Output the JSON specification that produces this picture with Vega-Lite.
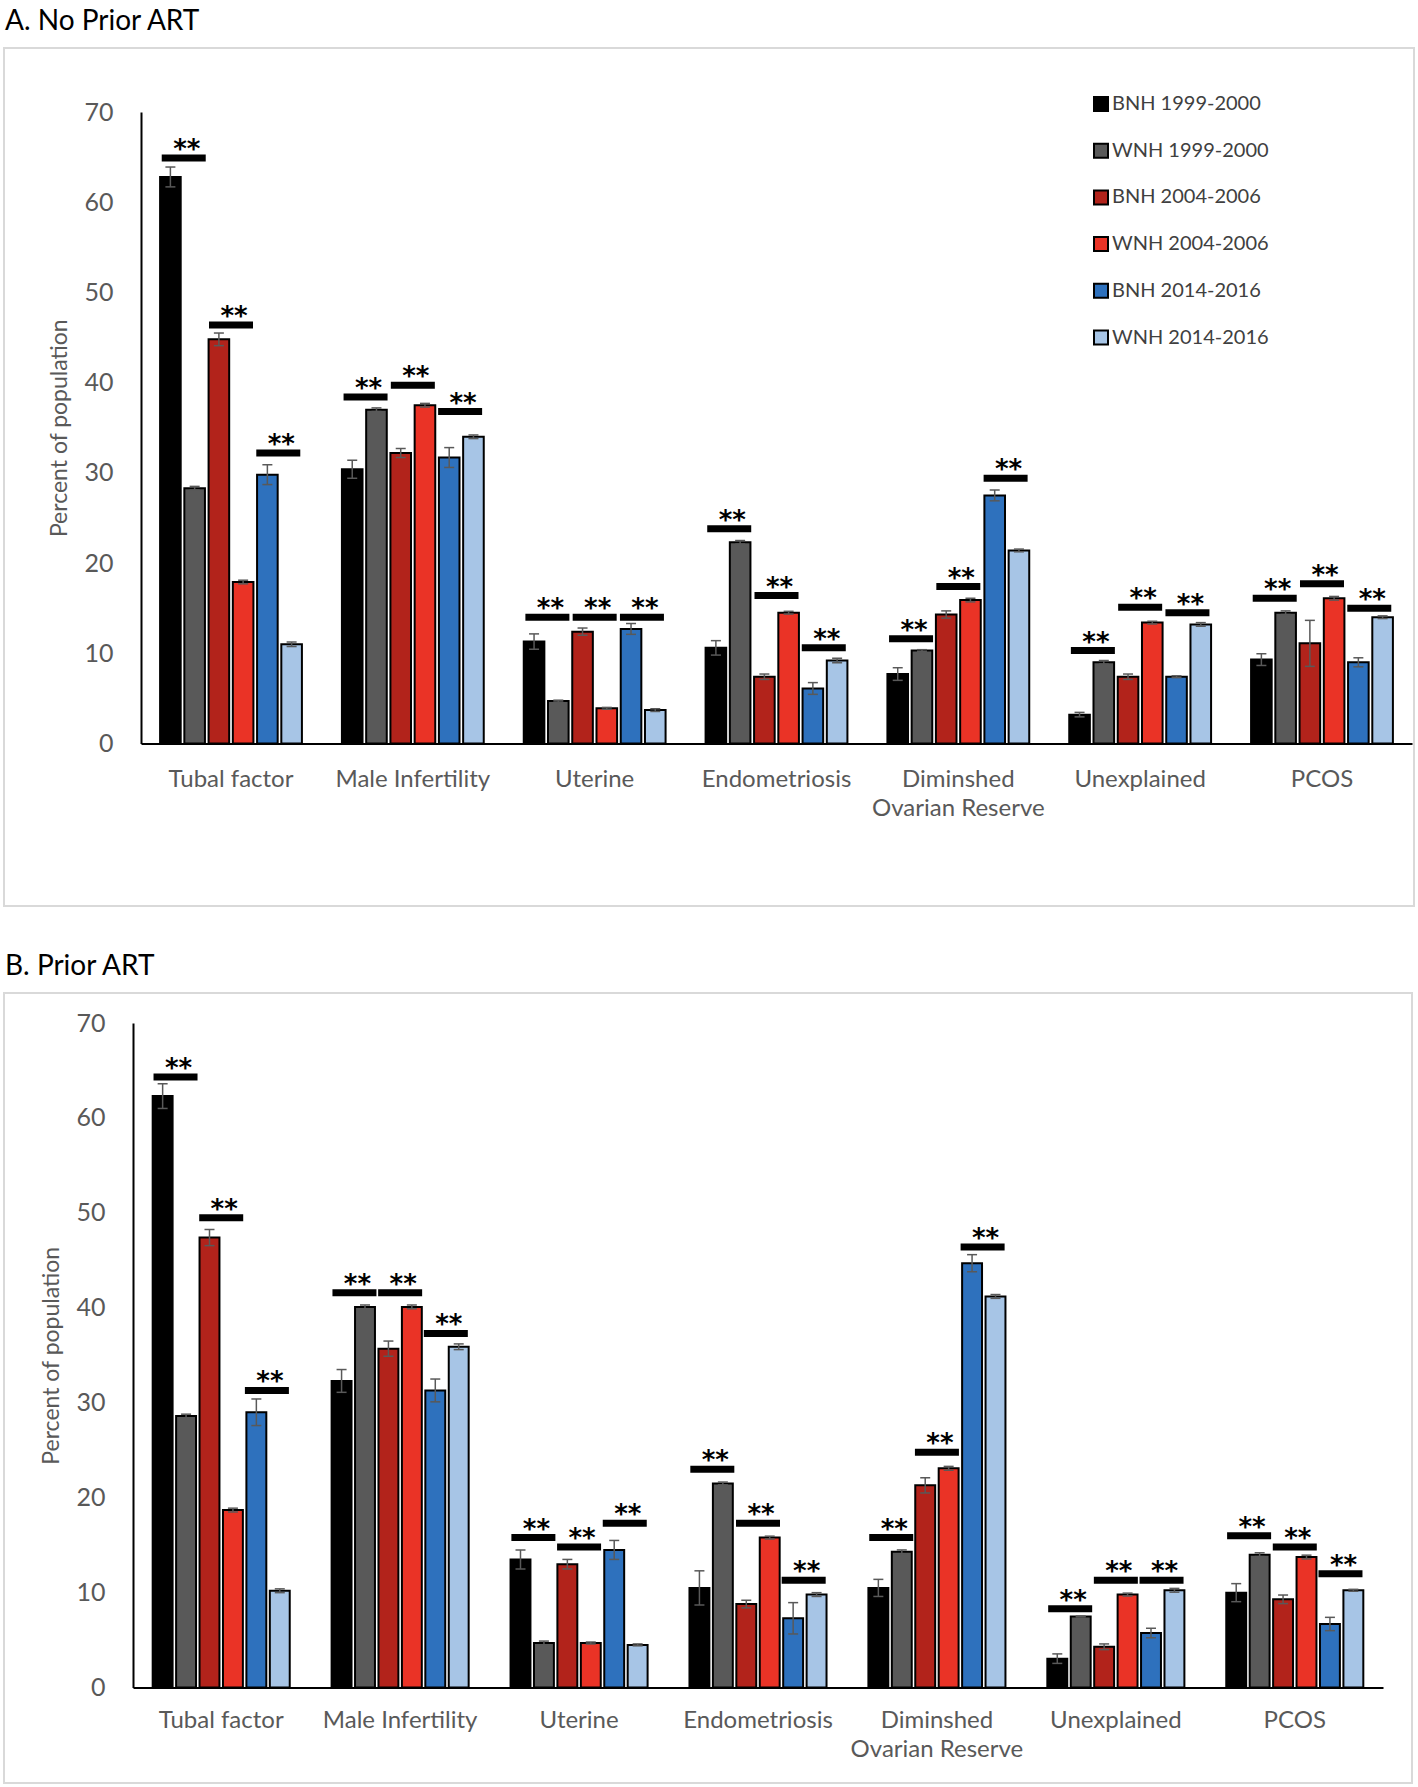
{
"$schema": "https://vega.github.io/schema/vega-lite/v6.json",
"padding": {"left": 3, "top": 7, "right": 0, "bottom": 0},
"autosize": {"type": "pad"},
"spacing": 45,
"config": {
  "font": "Lato",
  "view": {"stroke": "#d9d9d9", "strokeWidth": 2},
  "axis": {"grid": false, "ticks": false, "domainColor": "#000000", "domainWidth": 2, "labelColor": "#595959", "labelFont": "Lato", "titleFont": "Lato", "titleColor": "#595959", "titleFontWeight": "normal"},
  "title": {"font": "Lato", "fontWeight": "normal", "color": "#000000", "anchor": "start", "frame": "group", "fontSize": 28},
  "tick": {"opacity": 1}
},
"datasets": {
"bars": [
{"panel":"A","category":"Tubal factor","group":"BNH 1999-2000","value":62.8,"lo":61.7,"hi":63.9},
{"panel":"A","category":"Tubal factor","group":"WNH 1999-2000","value":28.3,"lo":28.1,"hi":28.5},
{"panel":"A","category":"Tubal factor","group":"BNH 2004-2006","value":44.8,"lo":44.1,"hi":45.5},
{"panel":"A","category":"Tubal factor","group":"WNH 2004-2006","value":17.9,"lo":17.7,"hi":18.1},
{"panel":"A","category":"Tubal factor","group":"BNH 2014-2016","value":29.8,"lo":28.7,"hi":30.9},
{"panel":"A","category":"Tubal factor","group":"WNH 2014-2016","value":11.0,"lo":10.75,"hi":11.25},
{"panel":"A","category":"Male Infertility","group":"BNH 1999-2000","value":30.4,"lo":29.4,"hi":31.4},
{"panel":"A","category":"Male Infertility","group":"WNH 1999-2000","value":37.0,"lo":36.8,"hi":37.2},
{"panel":"A","category":"Male Infertility","group":"BNH 2004-2006","value":32.2,"lo":31.7,"hi":32.7},
{"panel":"A","category":"Male Infertility","group":"WNH 2004-2006","value":37.5,"lo":37.3,"hi":37.7},
{"panel":"A","category":"Male Infertility","group":"BNH 2014-2016","value":31.7,"lo":30.6,"hi":32.8},
{"panel":"A","category":"Male Infertility","group":"WNH 2014-2016","value":34.0,"lo":33.8,"hi":34.2},
{"panel":"A","category":"Uterine","group":"BNH 1999-2000","value":11.3,"lo":10.45,"hi":12.15},
{"panel":"A","category":"Uterine","group":"WNH 1999-2000","value":4.7,"lo":4.6,"hi":4.8},
{"panel":"A","category":"Uterine","group":"BNH 2004-2006","value":12.4,"lo":12.0,"hi":12.8},
{"panel":"A","category":"Uterine","group":"WNH 2004-2006","value":3.9,"lo":3.8,"hi":4.0},
{"panel":"A","category":"Uterine","group":"BNH 2014-2016","value":12.7,"lo":12.1,"hi":13.3},
{"panel":"A","category":"Uterine","group":"WNH 2014-2016","value":3.7,"lo":3.55,"hi":3.85},
{"panel":"A","category":"Endometriosis","group":"BNH 1999-2000","value":10.6,"lo":9.8,"hi":11.4},
{"panel":"A","category":"Endometriosis","group":"WNH 1999-2000","value":22.3,"lo":22.1,"hi":22.5},
{"panel":"A","category":"Endometriosis","group":"BNH 2004-2006","value":7.4,"lo":7.1,"hi":7.7},
{"panel":"A","category":"Endometriosis","group":"WNH 2004-2006","value":14.5,"lo":14.35,"hi":14.65},
{"panel":"A","category":"Endometriosis","group":"BNH 2014-2016","value":6.1,"lo":5.45,"hi":6.75},
{"panel":"A","category":"Endometriosis","group":"WNH 2014-2016","value":9.2,"lo":8.95,"hi":9.45},
{"panel":"A","category":"Diminshed Ovarian Reserve","group":"BNH 1999-2000","value":7.7,"lo":7.0,"hi":8.4},
{"panel":"A","category":"Diminshed Ovarian Reserve","group":"WNH 1999-2000","value":10.3,"lo":10.2,"hi":10.4},
{"panel":"A","category":"Diminshed Ovarian Reserve","group":"BNH 2004-2006","value":14.3,"lo":13.9,"hi":14.7},
{"panel":"A","category":"Diminshed Ovarian Reserve","group":"WNH 2004-2006","value":15.9,"lo":15.7,"hi":16.1},
{"panel":"A","category":"Diminshed Ovarian Reserve","group":"BNH 2014-2016","value":27.5,"lo":26.9,"hi":28.1},
{"panel":"A","category":"Diminshed Ovarian Reserve","group":"WNH 2014-2016","value":21.4,"lo":21.25,"hi":21.55},
{"panel":"A","category":"Unexplained","group":"BNH 1999-2000","value":3.2,"lo":2.95,"hi":3.45},
{"panel":"A","category":"Unexplained","group":"WNH 1999-2000","value":9.0,"lo":8.8,"hi":9.2},
{"panel":"A","category":"Unexplained","group":"BNH 2004-2006","value":7.4,"lo":7.1,"hi":7.7},
{"panel":"A","category":"Unexplained","group":"WNH 2004-2006","value":13.4,"lo":13.25,"hi":13.55},
{"panel":"A","category":"Unexplained","group":"BNH 2014-2016","value":7.4,"lo":7.3,"hi":7.5},
{"panel":"A","category":"Unexplained","group":"WNH 2014-2016","value":13.2,"lo":13.0,"hi":13.4},
{"panel":"A","category":"PCOS","group":"BNH 1999-2000","value":9.3,"lo":8.65,"hi":9.95},
{"panel":"A","category":"PCOS","group":"WNH 1999-2000","value":14.5,"lo":14.3,"hi":14.7},
{"panel":"A","category":"PCOS","group":"BNH 2004-2006","value":11.1,"lo":8.55,"hi":13.65},
{"panel":"A","category":"PCOS","group":"WNH 2004-2006","value":16.1,"lo":15.9,"hi":16.3},
{"panel":"A","category":"PCOS","group":"BNH 2014-2016","value":9.0,"lo":8.5,"hi":9.5},
{"panel":"A","category":"PCOS","group":"WNH 2014-2016","value":14.0,"lo":13.85,"hi":14.15},
{"panel":"B","category":"Tubal factor","group":"BNH 1999-2000","value":62.3,"lo":61.0,"hi":63.6},
{"panel":"B","category":"Tubal factor","group":"WNH 1999-2000","value":28.6,"lo":28.4,"hi":28.8},
{"panel":"B","category":"Tubal factor","group":"BNH 2004-2006","value":47.4,"lo":46.55,"hi":48.25},
{"panel":"B","category":"Tubal factor","group":"WNH 2004-2006","value":18.7,"lo":18.5,"hi":18.9},
{"panel":"B","category":"Tubal factor","group":"BNH 2014-2016","value":29.0,"lo":27.6,"hi":30.4},
{"panel":"B","category":"Tubal factor","group":"WNH 2014-2016","value":10.2,"lo":10.0,"hi":10.4},
{"panel":"B","category":"Male Infertility","group":"BNH 1999-2000","value":32.3,"lo":31.1,"hi":33.5},
{"panel":"B","category":"Male Infertility","group":"WNH 1999-2000","value":40.1,"lo":39.9,"hi":40.3},
{"panel":"B","category":"Male Infertility","group":"BNH 2004-2006","value":35.7,"lo":34.9,"hi":36.5},
{"panel":"B","category":"Male Infertility","group":"WNH 2004-2006","value":40.1,"lo":39.9,"hi":40.3},
{"panel":"B","category":"Male Infertility","group":"BNH 2014-2016","value":31.3,"lo":30.1,"hi":32.5},
{"panel":"B","category":"Male Infertility","group":"WNH 2014-2016","value":35.9,"lo":35.6,"hi":36.2},
{"panel":"B","category":"Uterine","group":"BNH 1999-2000","value":13.5,"lo":12.5,"hi":14.5},
{"panel":"B","category":"Uterine","group":"WNH 1999-2000","value":4.7,"lo":4.5,"hi":4.9},
{"panel":"B","category":"Uterine","group":"BNH 2004-2006","value":13.0,"lo":12.5,"hi":13.5},
{"panel":"B","category":"Uterine","group":"WNH 2004-2006","value":4.7,"lo":4.6,"hi":4.8},
{"panel":"B","category":"Uterine","group":"BNH 2014-2016","value":14.5,"lo":13.5,"hi":15.5},
{"panel":"B","category":"Uterine","group":"WNH 2014-2016","value":4.5,"lo":4.4,"hi":4.6},
{"panel":"B","category":"Endometriosis","group":"BNH 1999-2000","value":10.5,"lo":8.7,"hi":12.3},
{"panel":"B","category":"Endometriosis","group":"WNH 1999-2000","value":21.5,"lo":21.35,"hi":21.65},
{"panel":"B","category":"Endometriosis","group":"BNH 2004-2006","value":8.8,"lo":8.4,"hi":9.2},
{"panel":"B","category":"Endometriosis","group":"WNH 2004-2006","value":15.8,"lo":15.65,"hi":15.95},
{"panel":"B","category":"Endometriosis","group":"BNH 2014-2016","value":7.3,"lo":5.65,"hi":8.95},
{"panel":"B","category":"Endometriosis","group":"WNH 2014-2016","value":9.8,"lo":9.6,"hi":10.0},
{"panel":"B","category":"Diminshed Ovarian Reserve","group":"BNH 1999-2000","value":10.5,"lo":9.6,"hi":11.4},
{"panel":"B","category":"Diminshed Ovarian Reserve","group":"WNH 1999-2000","value":14.3,"lo":14.1,"hi":14.5},
{"panel":"B","category":"Diminshed Ovarian Reserve","group":"BNH 2004-2006","value":21.3,"lo":20.5,"hi":22.1},
{"panel":"B","category":"Diminshed Ovarian Reserve","group":"WNH 2004-2006","value":23.1,"lo":22.9,"hi":23.3},
{"panel":"B","category":"Diminshed Ovarian Reserve","group":"BNH 2014-2016","value":44.7,"lo":43.8,"hi":45.6},
{"panel":"B","category":"Diminshed Ovarian Reserve","group":"WNH 2014-2016","value":41.2,"lo":41.0,"hi":41.4},
{"panel":"B","category":"Unexplained","group":"BNH 1999-2000","value":3.05,"lo":2.55,"hi":3.55},
{"panel":"B","category":"Unexplained","group":"WNH 1999-2000","value":7.5,"lo":7.45,"hi":7.55},
{"panel":"B","category":"Unexplained","group":"BNH 2004-2006","value":4.3,"lo":4.0,"hi":4.6},
{"panel":"B","category":"Unexplained","group":"WNH 2004-2006","value":9.8,"lo":9.65,"hi":9.95},
{"panel":"B","category":"Unexplained","group":"BNH 2014-2016","value":5.75,"lo":5.25,"hi":6.25},
{"panel":"B","category":"Unexplained","group":"WNH 2014-2016","value":10.25,"lo":10.05,"hi":10.45},
{"panel":"B","category":"PCOS","group":"BNH 1999-2000","value":10.0,"lo":9.05,"hi":10.95},
{"panel":"B","category":"PCOS","group":"WNH 1999-2000","value":14.0,"lo":13.8,"hi":14.2},
{"panel":"B","category":"PCOS","group":"BNH 2004-2006","value":9.3,"lo":8.85,"hi":9.75},
{"panel":"B","category":"PCOS","group":"WNH 2004-2006","value":13.75,"lo":13.55,"hi":13.95},
{"panel":"B","category":"PCOS","group":"BNH 2014-2016","value":6.7,"lo":6.0,"hi":7.4},
{"panel":"B","category":"PCOS","group":"WNH 2014-2016","value":10.25,"lo":10.15,"hi":10.35}
],
"sig": [
{"panel":"A","category":"Tubal factor","period":"1999-2000","y":64.9},
{"panel":"A","category":"Tubal factor","period":"2004-2006","y":46.4},
{"panel":"A","category":"Tubal factor","period":"2014-2016","y":32.2},
{"panel":"A","category":"Male Infertility","period":"1999-2000","y":38.4},
{"panel":"A","category":"Male Infertility","period":"2004-2006","y":39.7},
{"panel":"A","category":"Male Infertility","period":"2014-2016","y":36.8},
{"panel":"A","category":"Uterine","period":"1999-2000","y":14.0},
{"panel":"A","category":"Uterine","period":"2004-2006","y":14.0},
{"panel":"A","category":"Uterine","period":"2014-2016","y":14.0},
{"panel":"A","category":"Endometriosis","period":"1999-2000","y":23.8},
{"panel":"A","category":"Endometriosis","period":"2004-2006","y":16.4},
{"panel":"A","category":"Endometriosis","period":"2014-2016","y":10.6},
{"panel":"A","category":"Diminshed Ovarian Reserve","period":"1999-2000","y":11.6},
{"panel":"A","category":"Diminshed Ovarian Reserve","period":"2004-2006","y":17.4},
{"panel":"A","category":"Diminshed Ovarian Reserve","period":"2014-2016","y":29.4},
{"panel":"A","category":"Unexplained","period":"1999-2000","y":10.3},
{"panel":"A","category":"Unexplained","period":"2004-2006","y":15.1},
{"panel":"A","category":"Unexplained","period":"2014-2016","y":14.5},
{"panel":"A","category":"PCOS","period":"1999-2000","y":16.1},
{"panel":"A","category":"PCOS","period":"2004-2006","y":17.7},
{"panel":"A","category":"PCOS","period":"2014-2016","y":15.0},
{"panel":"B","category":"Tubal factor","period":"1999-2000","y":64.3},
{"panel":"B","category":"Tubal factor","period":"2004-2006","y":49.5},
{"panel":"B","category":"Tubal factor","period":"2014-2016","y":31.3},
{"panel":"B","category":"Male Infertility","period":"1999-2000","y":41.6},
{"panel":"B","category":"Male Infertility","period":"2004-2006","y":41.6},
{"panel":"B","category":"Male Infertility","period":"2014-2016","y":37.3},
{"panel":"B","category":"Uterine","period":"1999-2000","y":15.8},
{"panel":"B","category":"Uterine","period":"2004-2006","y":14.8},
{"panel":"B","category":"Uterine","period":"2014-2016","y":17.3},
{"panel":"B","category":"Endometriosis","period":"1999-2000","y":23.0},
{"panel":"B","category":"Endometriosis","period":"2004-2006","y":17.3},
{"panel":"B","category":"Endometriosis","period":"2014-2016","y":11.3},
{"panel":"B","category":"Diminshed Ovarian Reserve","period":"1999-2000","y":15.8},
{"panel":"B","category":"Diminshed Ovarian Reserve","period":"2004-2006","y":24.8},
{"panel":"B","category":"Diminshed Ovarian Reserve","period":"2014-2016","y":46.4},
{"panel":"B","category":"Unexplained","period":"1999-2000","y":8.3},
{"panel":"B","category":"Unexplained","period":"2004-2006","y":11.3},
{"panel":"B","category":"Unexplained","period":"2014-2016","y":11.3},
{"panel":"B","category":"PCOS","period":"1999-2000","y":16.0},
{"panel":"B","category":"PCOS","period":"2004-2006","y":14.8},
{"panel":"B","category":"PCOS","period":"2014-2016","y":12.0}
]
},
"vconcat": [
{
  "title": {"text": "A. No Prior ART", "dx": 1, "offset": 12},
  "width": 1410,
  "height": 858,
  "encoding": {
    "x": {"field": "category", "type": "nominal",
      "sort": ["Tubal factor","Male Infertility","Uterine","Endometriosis","Diminshed Ovarian Reserve","Unexplained","PCOS"],
      "scale": {"range": [137, 1408], "paddingInner": 0.22, "paddingOuter": 0.105},
      "axis": {"title": null, "labelAngle": 0, "labelFontSize": 24, "labelPadding": 24, "offset": -162.5, "labelLineHeight": 29,
        "labelExpr": "datum.label == 'Diminshed Ovarian Reserve' ? ['Diminshed', 'Ovarian Reserve'] : datum.label"}}
  },
  "layer": [
    {
      "data": {"name": "bars"},
      "transform": [{"filter": "datum.panel == 'A'"}],
      "mark": {"type": "bar", "stroke": "#000000", "strokeWidth": 2},
      "encoding": {
        "xOffset": {"field": "group", "type": "nominal", "sort": ["BNH 1999-2000","WNH 1999-2000","BNH 2004-2006","WNH 2004-2006","BNH 2014-2016","WNH 2014-2016"], "scale": {"paddingInner": 0.15}},
        "y": {"field": "value", "type": "quantitative",
          "scale": {"domain": [0, 70], "range": [695.5, 64], "nice": false},
          "axis": {"values": [0,10,20,30,40,50,60,70], "title": "Percent of population", "titleFontSize": 23, "labelFontSize": 25, "labelPadding": 28, "titlePadding": 12, "offset": -137}},
        "color": {"field": "group", "type": "nominal",
          "sort": ["BNH 1999-2000","WNH 1999-2000","BNH 2004-2006","WNH 2004-2006","BNH 2014-2016","WNH 2014-2016"],
          "scale": {"domain": ["BNH 1999-2000","WNH 1999-2000","BNH 2004-2006","WNH 2004-2006","BNH 2014-2016","WNH 2014-2016"],
                    "range": ["#000000","#595959","#B2231B","#EA3326","#2E71BD","#A7C5E6"]},
          "legend": {"orient": "none", "legendX": 1087, "legendY": 46, "title": null, "symbolType": "square", "symbolSize": 196,
            "symbolStrokeColor": "#000000", "symbolStrokeWidth": 2, "labelFontSize": 20, "labelColor": "#404040", "labelFont": "Lato",
            "rowPadding": 24.7, "labelOffset": 1, "padding": 0}}
      }
    },
    {
      "data": {"name": "bars"},
      "transform": [{"filter": "datum.panel == 'A'"}],
      "mark": {"type": "rule", "color": "#595959", "strokeWidth": 1.5},
      "encoding": {
        "xOffset": {"field": "group", "type": "nominal", "sort": ["BNH 1999-2000","WNH 1999-2000","BNH 2004-2006","WNH 2004-2006","BNH 2014-2016","WNH 2014-2016"], "scale": {"paddingInner": 0.15}},
        "y": {"field": "lo", "type": "quantitative", "scale": {"domain": [0, 70], "range": [695.5, 64], "nice": false},
          "axis": {"values": [0,10,20,30,40,50,60,70], "title": "Percent of population", "titleFontSize": 23, "labelFontSize": 25, "labelPadding": 28, "titlePadding": 12, "offset": -137}},
        "y2": {"field": "hi"}
      }
    },
    {
      "data": {"name": "bars"},
      "transform": [{"filter": "datum.panel == 'A'"}],
      "mark": {"type": "tick", "color": "#595959", "thickness": 1.5, "size": 10, "opacity": 1},
      "encoding": {
        "xOffset": {"field": "group", "type": "nominal", "sort": ["BNH 1999-2000","WNH 1999-2000","BNH 2004-2006","WNH 2004-2006","BNH 2014-2016","WNH 2014-2016"], "scale": {"paddingInner": 0.15}},
        "y": {"field": "lo", "type": "quantitative", "scale": {"domain": [0, 70], "range": [695.5, 64], "nice": false},
          "axis": {"values": [0,10,20,30,40,50,60,70], "title": "Percent of population", "titleFontSize": 23, "labelFontSize": 25, "labelPadding": 28, "titlePadding": 12, "offset": -137}}
      }
    },
    {
      "data": {"name": "bars"},
      "transform": [{"filter": "datum.panel == 'A'"}],
      "mark": {"type": "tick", "color": "#595959", "thickness": 1.5, "size": 10, "opacity": 1},
      "encoding": {
        "xOffset": {"field": "group", "type": "nominal", "sort": ["BNH 1999-2000","WNH 1999-2000","BNH 2004-2006","WNH 2004-2006","BNH 2014-2016","WNH 2014-2016"], "scale": {"paddingInner": 0.15}},
        "y": {"field": "hi", "type": "quantitative", "scale": {"domain": [0, 70], "range": [695.5, 64], "nice": false},
          "axis": {"values": [0,10,20,30,40,50,60,70], "title": "Percent of population", "titleFontSize": 23, "labelFontSize": 25, "labelPadding": 28, "titlePadding": 12, "offset": -137}}
      }
    },
    {
      "data": {"name": "sig"},
      "transform": [{"filter": "datum.panel == 'A'"}],
      "mark": {"type": "tick", "color": "#000000", "thickness": 7, "size": 44, "opacity": 1},
      "encoding": {
        "xOffset": {"field": "period", "type": "nominal", "sort": ["1999-2000","2004-2006","2014-2016"]},
        "y": {"field": "y", "type": "quantitative", "scale": {"domain": [0, 70], "range": [695.5, 64], "nice": false},
          "axis": {"values": [0,10,20,30,40,50,60,70], "title": "Percent of population", "titleFontSize": 23, "labelFontSize": 25, "labelPadding": 28, "titlePadding": 12, "offset": -137}}
      }
    },
    {
      "data": {"name": "sig"},
      "transform": [{"filter": "datum.panel == 'A'"}],
      "mark": {"type": "text", "text": "**", "fontSize": 26, "fontWeight": "bold", "color": "#000000", "baseline": "alphabetic", "dy": 0, "dx": 3, "font": "DejaVu Sans"},
      "encoding": {
        "xOffset": {"field": "period", "type": "nominal", "sort": ["1999-2000","2004-2006","2014-2016"]},
        "y": {"field": "y", "type": "quantitative", "scale": {"domain": [0, 70], "range": [695.5, 64], "nice": false},
          "axis": {"values": [0,10,20,30,40,50,60,70], "title": "Percent of population", "titleFontSize": 23, "labelFontSize": 25, "labelPadding": 28, "titlePadding": 12, "offset": -137}}
      }
    }
  ],
  "resolve": {"scale": {"xOffset": "independent"}}
},
{
  "title": {"text": "B. Prior ART", "dx": 1, "offset": 12},
  "width": 1408,
  "height": 790,
  "encoding": {
    "x": {"field": "category", "type": "nominal",
      "sort": ["Tubal factor","Male Infertility","Uterine","Endometriosis","Diminshed Ovarian Reserve","Unexplained","PCOS"],
      "scale": {"range": [129, 1379], "paddingInner": 0.234, "paddingOuter": 0.11},
      "axis": {"title": null, "labelAngle": 0, "labelFontSize": 24, "labelPadding": 21, "offset": -95.4, "labelLineHeight": 29,
        "labelExpr": "datum.label == 'Diminshed Ovarian Reserve' ? ['Diminshed', 'Ovarian Reserve'] : datum.label"}}
  },
  "layer": [
    {
      "data": {"name": "bars"},
      "transform": [{"filter": "datum.panel == 'B'"}],
      "mark": {"type": "bar", "stroke": "#000000", "strokeWidth": 2},
      "encoding": {
        "xOffset": {"field": "group", "type": "nominal", "sort": ["BNH 1999-2000","WNH 1999-2000","BNH 2004-2006","WNH 2004-2006","BNH 2014-2016","WNH 2014-2016"], "scale": {"paddingInner": 0.15}},
        "y": {"field": "value", "type": "quantitative",
          "scale": {"domain": [0, 70], "range": [694.6, 30], "nice": false},
          "axis": {"values": [0,10,20,30,40,50,60,70], "title": "Percent of population", "titleFontSize": 23, "labelFontSize": 25, "labelPadding": 28, "titlePadding": 12, "offset": -129}},
        "color": {"field": "group", "type": "nominal",
          "sort": ["BNH 1999-2000","WNH 1999-2000","BNH 2004-2006","WNH 2004-2006","BNH 2014-2016","WNH 2014-2016"],
          "scale": {"domain": ["BNH 1999-2000","WNH 1999-2000","BNH 2004-2006","WNH 2004-2006","BNH 2014-2016","WNH 2014-2016"],
                    "range": ["#000000","#595959","#B2231B","#EA3326","#2E71BD","#A7C5E6"]},
          "legend": null}
      }
    },
    {
      "data": {"name": "bars"},
      "transform": [{"filter": "datum.panel == 'B'"}],
      "mark": {"type": "rule", "color": "#595959", "strokeWidth": 1.5},
      "encoding": {
        "xOffset": {"field": "group", "type": "nominal", "sort": ["BNH 1999-2000","WNH 1999-2000","BNH 2004-2006","WNH 2004-2006","BNH 2014-2016","WNH 2014-2016"], "scale": {"paddingInner": 0.15}},
        "y": {"field": "lo", "type": "quantitative", "scale": {"domain": [0, 70], "range": [694.6, 30], "nice": false},
          "axis": {"values": [0,10,20,30,40,50,60,70], "title": "Percent of population", "titleFontSize": 23, "labelFontSize": 25, "labelPadding": 28, "titlePadding": 12, "offset": -129}},
        "y2": {"field": "hi"}
      }
    },
    {
      "data": {"name": "bars"},
      "transform": [{"filter": "datum.panel == 'B'"}],
      "mark": {"type": "tick", "color": "#595959", "thickness": 1.5, "size": 10, "opacity": 1},
      "encoding": {
        "xOffset": {"field": "group", "type": "nominal", "sort": ["BNH 1999-2000","WNH 1999-2000","BNH 2004-2006","WNH 2004-2006","BNH 2014-2016","WNH 2014-2016"], "scale": {"paddingInner": 0.15}},
        "y": {"field": "lo", "type": "quantitative", "scale": {"domain": [0, 70], "range": [694.6, 30], "nice": false},
          "axis": {"values": [0,10,20,30,40,50,60,70], "title": "Percent of population", "titleFontSize": 23, "labelFontSize": 25, "labelPadding": 28, "titlePadding": 12, "offset": -129}}
      }
    },
    {
      "data": {"name": "bars"},
      "transform": [{"filter": "datum.panel == 'B'"}],
      "mark": {"type": "tick", "color": "#595959", "thickness": 1.5, "size": 10, "opacity": 1},
      "encoding": {
        "xOffset": {"field": "group", "type": "nominal", "sort": ["BNH 1999-2000","WNH 1999-2000","BNH 2004-2006","WNH 2004-2006","BNH 2014-2016","WNH 2014-2016"], "scale": {"paddingInner": 0.15}},
        "y": {"field": "hi", "type": "quantitative", "scale": {"domain": [0, 70], "range": [694.6, 30], "nice": false},
          "axis": {"values": [0,10,20,30,40,50,60,70], "title": "Percent of population", "titleFontSize": 23, "labelFontSize": 25, "labelPadding": 28, "titlePadding": 12, "offset": -129}}
      }
    },
    {
      "data": {"name": "sig"},
      "transform": [{"filter": "datum.panel == 'B'"}],
      "mark": {"type": "tick", "color": "#000000", "thickness": 7, "size": 44, "opacity": 1},
      "encoding": {
        "xOffset": {"field": "period", "type": "nominal", "sort": ["1999-2000","2004-2006","2014-2016"]},
        "y": {"field": "y", "type": "quantitative", "scale": {"domain": [0, 70], "range": [694.6, 30], "nice": false},
          "axis": {"values": [0,10,20,30,40,50,60,70], "title": "Percent of population", "titleFontSize": 23, "labelFontSize": 25, "labelPadding": 28, "titlePadding": 12, "offset": -129}}
      }
    },
    {
      "data": {"name": "sig"},
      "transform": [{"filter": "datum.panel == 'B'"}],
      "mark": {"type": "text", "text": "**", "fontSize": 26, "fontWeight": "bold", "color": "#000000", "baseline": "alphabetic", "dy": 0, "dx": 3, "font": "DejaVu Sans"},
      "encoding": {
        "xOffset": {"field": "period", "type": "nominal", "sort": ["1999-2000","2004-2006","2014-2016"]},
        "y": {"field": "y", "type": "quantitative", "scale": {"domain": [0, 70], "range": [694.6, 30], "nice": false},
          "axis": {"values": [0,10,20,30,40,50,60,70], "title": "Percent of population", "titleFontSize": 23, "labelFontSize": 25, "labelPadding": 28, "titlePadding": 12, "offset": -129}}
      }
    }
  ],
  "resolve": {"scale": {"xOffset": "independent"}}
}
]
}
